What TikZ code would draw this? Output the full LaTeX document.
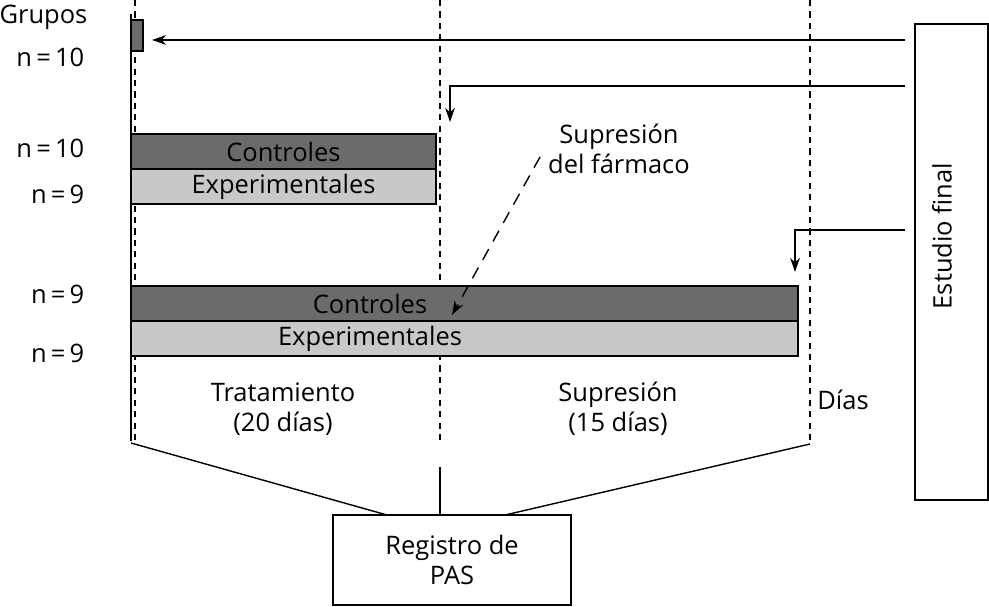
\documentclass[tikz,border=0pt]{standalone}
\usepackage{fontspec}
\setmainfont{Open Sans}
\usetikzlibrary{arrows.meta}
\definecolor{darkbar}{HTML}{6B6B6B}
\definecolor{lightbar}{HTML}{C8C8C8}
\begin{document}
\begin{tikzpicture}[x=0.02cm,y=-0.02cm,
  line width=0.8pt,
  txt/.style={font=\fontsize{14.5}{17}\selectfont, inner sep=0pt, align=center},
  bar/.style={draw, inner sep=0pt, outer sep=0pt, minimum height=0.7cm, font=\fontsize{14.5}{17}\selectfont},
  ctrl/.style={bar, fill=darkbar},
  expe/.style={bar, fill=lightbar},
  plainbox/.style={draw, inner sep=0pt, outer sep=0pt},
  dashln/.style={dash pattern=on 3.5pt off 3pt, line width=0.8pt},
  arr/.style={-{Stealth[length=8pt,width=5.5pt,inset=2.5pt]}}
]
\useasboundingbox (0,0) rectangle (989,607);

% vertical guides
\draw (131,14) -- (131,441);
\draw[dashln] (135,0) -- (135,441);
\draw[dashln] (440,0) -- (440,445);
\draw[dashln] (810,0) -- (810,444);

% small box
\node[plainbox, fill=darkbar, minimum width=0.24cm, minimum height=0.62cm] (small) at (137,35.5) {};

% bars
\node[ctrl, minimum width=6.1cm] (c1) at (283.5,151.5) {Controles};
\node[expe, minimum width=6.1cm] (x1) at (283.5,186.5) {Experimentales};
\node[ctrl, minimum width=13.34cm, label={[xshift=-1.89cm, font=\fontsize{14.5}{17}\selectfont]center:Controles}] (c2) at (464.5,303.5) {};
\node[expe, minimum width=13.34cm, label={[xshift=-1.89cm, font=\fontsize{14.5}{17}\selectfont]center:Experimentales}] (x2) at (464.5,338.5) {};

% Estudio final box
\node[plainbox, minimum width=1.46cm, minimum height=9.52cm] (est) at (951.5,262) {};
\node[txt, rotate=90] (esttxt) at (942,236) {Estudio final};

% Registro box
\node[plainbox, minimum width=4.76cm, minimum height=1.8cm, txt] (reg) at (452,560) {Registro de\\PAS};

% left labels
\node[txt, anchor=base east] (grupos) at (88,24) {Grupos};
\node[txt, anchor=base east] (n1) at (85,67) {n\,=\,10};
\node[txt, anchor=base east] (n2) at (85,158) {n\,=\,10};
\node[txt, anchor=base east] (n3) at (85,204) {n\,=\,9};
\node[txt, anchor=base east] (n4) at (85,304) {n\,=\,9};
\node[txt, anchor=base east] (n5) at (85,362) {n\,=\,9};

% period labels
\node[txt] (trat) at (283,409) {Tratamiento\\(20 días)};
\node[txt] (supr) at (618,409) {Supresión\\(15 días)};
\node[txt] (dias) at (843,400) {Días};
\node[txt] (supf) at (619,149) {Supresión\\del fármaco};

% arrows from Estudio final
\coordinate (e1) at (905,40);
\coordinate (e2) at (905,86);
\coordinate (e3) at (905,230);
\coordinate (t2) at (450,122);
\coordinate (t3) at (795,272);
\draw[arr, shorten >=0.18cm] (e1) -- (small.east |- e1);
\draw[arr] (e2) -| (t2);
\draw[arr] (e3) -| (t3);

% dashed arrow
\coordinate (d1) at (540,157);
\coordinate (d2) at (452,315);
\draw[arr, dash pattern=on 7pt off 5pt] (d1) -- (d2);

% bottom connectors
\coordinate (b1) at (131,443);
\coordinate (b2) at (810,444);
\coordinate (b3) at (440,467);
\draw (b1) -- (387,515);
\draw (b2) -- (505,515);
\draw (b3) -- (reg.north -| b3);
\end{tikzpicture}
\end{document}
